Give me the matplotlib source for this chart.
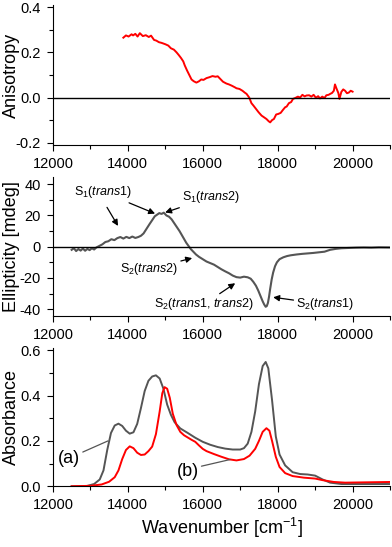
import numpy as np
import matplotlib
matplotlib.use('Agg')
import matplotlib.pyplot as plt
from matplotlib.ticker import MultipleLocator

plt.rcParams['font.family'] = ['Liberation Sans', 'DejaVu Sans']
plt.rcParams['axes.unicode_minus'] = False
plt.rcParams['mathtext.fontset'] = 'custom'
plt.rcParams['mathtext.rm'] = 'Liberation Sans'
plt.rcParams['mathtext.it'] = 'Liberation Sans:italic'

# anisotropy (red, top panel)
aniso_x = [13880, 13950, 14020, 14100, 14140, 14200, 14260, 14320, 14400, 14480, 14560, 14620,
           14700, 14760, 14830, 14900, 15000, 15080, 15150, 15230, 15300, 15360, 15420, 15480,
           15520, 15580, 15640, 15700, 15760, 15830, 15900, 15960, 16020, 16100, 16180, 16260,
           16340, 16400, 16470, 16540, 16630, 16700, 16780, 16860, 16900, 16980, 17060, 17120,
           17170, 17240, 17300, 17350, 17420, 17490, 17570, 17640, 17700, 17760, 17800, 17850,
           17900, 17960, 18010, 18080, 18140, 18200, 18240, 18300, 18360, 18410, 18470, 18540,
           18600, 18660, 18720, 18770, 18840, 18900, 18960, 19020, 19080, 19130, 19190, 19250,
           19300, 19360, 19400, 19450, 19500, 19530, 19570, 19620, 19650, 19700, 19750, 19800,
           19850, 19900, 19950, 20000]
aniso_y = [0.265, 0.275, 0.270, 0.280, 0.275, 0.282, 0.270, 0.285, 0.272, 0.276, 0.268, 0.274,
           0.255, 0.252, 0.245, 0.242, 0.236, 0.230, 0.218, 0.212, 0.200, 0.188, 0.175, 0.160,
           0.142, 0.120, 0.100, 0.080, 0.072, 0.066, 0.072, 0.080, 0.078, 0.086, 0.090, 0.095,
           0.092, 0.094, 0.082, 0.070, 0.062, 0.058, 0.052, 0.045, 0.041, 0.038, 0.030, 0.022,
           0.016, 0.000, -0.025, -0.035, -0.050, -0.065, -0.080, -0.088, -0.095, -0.105, -0.110,
           -0.100, -0.095, -0.075, -0.073, -0.068, -0.055, -0.043, -0.040, -0.025, -0.020, -0.006,
           -0.002, 0.004, 0.000, 0.012, 0.005, 0.009, 0.010, 0.004, 0.012, -0.001, 0.006, -0.004,
           0.004, -0.002, 0.010, 0.012, 0.016, 0.020, 0.030, 0.058, 0.040, 0.020, -0.006, 0.025,
           0.036, 0.030, 0.019, 0.022, 0.030, 0.026]

# ellipticity (gray, middle panel)
cd_x = [12500, 12560, 12620, 12680, 12740, 12800, 12860, 12920, 12980, 13040, 13100, 13160,
        13240, 13320, 13400, 13480, 13560, 13640, 13720, 13800, 13880, 13960, 14040, 14120,
        14200, 14280, 14350, 14420, 14500, 14580, 14650, 14720, 14780, 14840, 14900, 14960,
        15030, 15100, 15170, 15240, 15310, 15380, 15440, 15500, 15560, 15620, 15680, 15740,
        15820, 15900, 16000, 16100, 16200, 16300, 16400, 16500, 16600, 16700, 16800, 16900,
        17000, 17100, 17200, 17280, 17350, 17420, 17480, 17540, 17600, 17640, 17680, 17710,
        17740, 17770, 17800, 17840, 17880, 17930, 17980, 18050, 18150, 18250, 18350, 18500,
        18650, 18800, 18950, 19100, 19250, 19400, 19550, 19700, 19900, 20100, 20300, 20500,
        20700, 21000]
cd_y = [-2.0, -1.0, -2.8, -1.5, -2.5, -1.2, -2.6, -1.4, -2.2, -1.0, -1.8, -0.5,
        0.5, 1.5, 3.0, 3.5, 4.8, 4.2, 5.5, 6.2, 5.2, 6.3, 5.5, 6.5, 5.6, 6.2, 7.0, 8.5,
        11.5, 14.5, 17.0, 19.5, 20.5, 21.5, 21.0, 21.8, 20.0, 19.2, 17.5, 15.0, 12.5, 10.0,
        7.5, 5.0, 2.5, 0.5, -1.5, -3.0, -5.0, -6.5, -8.0, -9.5, -10.5, -11.5, -13.0, -14.5,
        -15.8, -17.0, -18.5, -19.5, -19.8, -19.2, -19.6, -20.5, -22.5, -25.0, -28.0, -31.5,
        -35.0, -37.0, -38.5, -38.0, -36.0, -32.0, -27.0, -21.0, -16.5, -12.5, -10.0, -8.0,
        -6.8, -6.0, -5.5, -5.0, -4.6, -4.3, -4.0, -3.6, -3.2, -2.0, -1.4, -1.0, -0.8, -0.6,
        -0.5, -0.6, -0.4, -0.5]

# absorbance (bottom panel), (a) gray and (b) red
abs_a_x = [12500, 12900, 13100, 13250, 13350, 13450, 13550, 13650, 13750, 13850, 13950, 14050,
           14150, 14250, 14350, 14450, 14550, 14650, 14750, 14850, 14950, 15050, 15150, 15250,
           15400, 15600, 15800, 16000, 16200, 16400, 16600, 16800, 17000, 17100, 17200, 17300,
           17400, 17500, 17600, 17680, 17750, 17850, 17950, 18050, 18200, 18400, 18600, 18800,
           19000, 19200, 19400, 19700, 21000]
abs_a_y = [0.0, 0.001, 0.01, 0.03, 0.07, 0.16, 0.235, 0.268, 0.276, 0.266, 0.245, 0.232,
           0.238, 0.275, 0.345, 0.42, 0.465, 0.484, 0.489, 0.475, 0.43, 0.36, 0.315, 0.282,
           0.255, 0.235, 0.214, 0.196, 0.183, 0.173, 0.166, 0.162, 0.162, 0.168, 0.188, 0.24,
           0.33, 0.45, 0.53, 0.548, 0.52, 0.38, 0.22, 0.14, 0.092, 0.062, 0.054, 0.052,
           0.047, 0.030, 0.016, 0.010, 0.010]
abs_b_x = [12500, 13000, 13300, 13500, 13650, 13750, 13850, 13950, 14050, 14150, 14250, 14350,
           14450, 14550, 14650, 14750, 14850, 14920, 14980, 15050, 15120, 15200, 15300, 15400,
           15500, 15600, 15700, 15800, 15900, 16000, 16100, 16300, 16500, 16700, 16900, 17100,
           17250, 17400, 17500, 17600, 17700, 17780, 17850, 17950, 18050, 18200, 18400, 18700,
           19000, 19200, 19500, 19800, 20200, 21000]
abs_b_y = [0.0, 0.002, 0.008, 0.02, 0.04, 0.07, 0.12, 0.16, 0.176, 0.168, 0.148, 0.138,
           0.14, 0.155, 0.175, 0.23, 0.33, 0.41, 0.437, 0.43, 0.39, 0.32, 0.27, 0.24,
           0.225, 0.215, 0.205, 0.196, 0.18, 0.165, 0.155, 0.142, 0.13, 0.119, 0.114, 0.12,
           0.135, 0.165, 0.2, 0.24, 0.256, 0.245, 0.2, 0.13, 0.085, 0.058, 0.045, 0.038,
           0.034, 0.027, 0.019, 0.016, 0.017, 0.019]

GRAY = '#555555'
RED = '#ff0000'
tick_fs = 10.5
label_fs = 13

fig = plt.figure(figsize=(3.92, 5.47), dpi=100)
ax1 = fig.add_axes([0.135, 0.735, 0.86, 0.256])
ax2 = fig.add_axes([0.135, 0.422, 0.86, 0.254])
ax3 = fig.add_axes([0.135, 0.111, 0.86, 0.253])


def style(ax):
    for s in ['top', 'right']:
        ax.spines[s].set_visible(False)
    ax.set_xlim(12000, 21000)
    ax.xaxis.set_major_locator(MultipleLocator(2000))
    ax.xaxis.set_minor_locator(MultipleLocator(1000))
    ax.tick_params(which='major', direction='out', length=4, width=0.8, pad=4.5, labelsize=tick_fs)
    ax.tick_params(which='minor', direction='out', length=3, width=0.8)


ax1.plot(aniso_x, aniso_y, color=RED, lw=1.4)
ax1.axhline(0, color='black', lw=1)
style(ax1)
ax1.set_ylim(-0.21, 0.41)
ax1.set_yticks([-0.2, 0.0, 0.2, 0.4])
ax1.set_yticklabels(['-0.2', '0.0', '0.2', '0.4'])
ax1.yaxis.set_minor_locator(MultipleLocator(0.1))
ax1.set_ylabel('Anisotropy', fontsize=label_fs)

ax2.plot(cd_x, cd_y, color=GRAY, lw=1.5)
ax2.axhline(0, color='black', lw=1)
style(ax2)
ax2.set_ylim(-44.5, 44.5)
ax2.set_yticks([-40, -20, 0, 20, 40])
ax2.yaxis.set_minor_locator(MultipleLocator(10))
ax2.set_ylabel('Ellipticity [mdeg]', fontsize=label_fs)

arrow = dict(arrowstyle='-|>', color='black', lw=0.9, mutation_scale=9, shrinkA=0, shrinkB=0)
afs = 9
ax2.annotate(r'S$_1$($\mathit{trans1}$)', xy=(14727, 21.2), xytext=(14112, 35),
             fontsize=afs, ha='right', va='center', arrowprops=arrow)
ax2.annotate('', xy=(13738, 13.3), xytext=(13444, 25.2), arrowprops=arrow)
ax2.annotate(r'S$_1$($\mathit{trans2}$)', xy=(14995, 21.9), xytext=(15449, 31.8),
             fontsize=afs, ha='left', va='center', arrowprops=arrow)
ax2.annotate(r'S$_2$($\mathit{trans2}$)', xy=(15717, -7.3), xytext=(15342, -14.4),
             fontsize=afs, ha='right', va='center', arrowprops=arrow)
ax2.annotate(r'S$_2$($\mathit{trans1}$, $\mathit{trans2}$)', xy=(16866, -23.4), xytext=(16024, -37),
             fontsize=afs, ha='center', va='center', arrowprops=arrow)
ax2.annotate(r'S$_2$($\mathit{trans1}$)', xy=(17880, -32.4), xytext=(18497, -37),
             fontsize=afs, ha='left', va='center', arrowprops=arrow)

ax3.plot(abs_a_x, abs_a_y, color=GRAY, lw=1.4)
ax3.plot(abs_b_x, abs_b_y, color=RED, lw=1.4)
style(ax3)
ax3.set_ylim(0, 0.61)
ax3.set_yticks([0.0, 0.2, 0.4, 0.6])
ax3.yaxis.set_minor_locator(MultipleLocator(0.1))
ax3.set_ylabel('Absorbance', fontsize=label_fs)
ax3.set_xlabel('Wavenumber [cm$^{-1}$]', fontsize=label_fs, labelpad=3)

ax3.annotate('(a)', xy=(13470, 0.2), xytext=(12428, 0.123), fontsize=13, ha='center', va='center',
             arrowprops=dict(arrowstyle='-', color=GRAY, lw=0.9, shrinkA=0, shrinkB=0,
                             relpos=(1.0, 0.8)))
ax3.annotate('(b)', xy=(16733, 0.118), xytext=(15596, 0.067), fontsize=13, ha='center', va='center',
             arrowprops=dict(arrowstyle='-', color=GRAY, lw=0.9, shrinkA=0, shrinkB=0,
                             relpos=(1.0, 0.75)))

for ax in (ax1, ax2, ax3):
    ax.yaxis.set_label_coords(-0.098, 0.5)

fig.savefig('out.png', dpi=100)
